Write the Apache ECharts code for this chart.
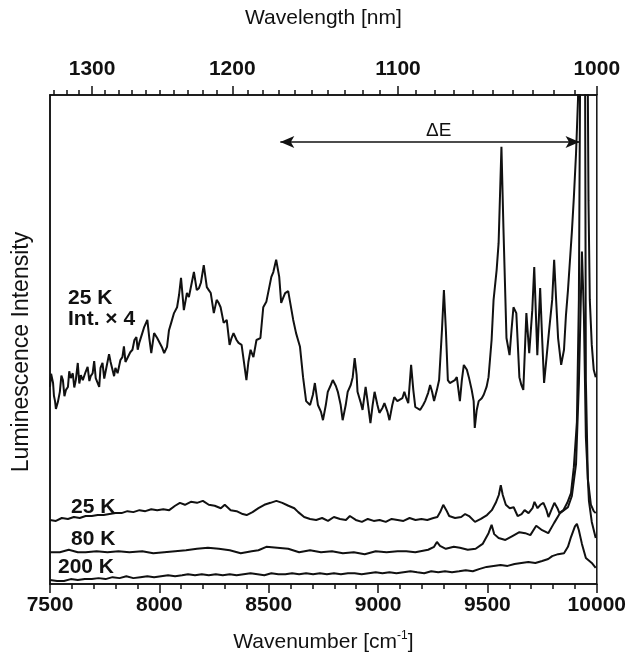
<!DOCTYPE html>
<html>
<head>
<meta charset="utf-8">
<script src="https://cdn.jsdelivr.net/npm/echarts@6/dist/echarts.min.js"></script>
<style>
  html, body { margin: 0; padding: 0; background: #fff; }
  #chart { width: 629px; height: 661px; }
</style>
</head>
<body>
<div id="chart"></div>
<script>
// wavelength ticks on the top axis (nm)
const topMajorNm = [1300, 1200, 1100, 1000]
const topMinorNm = [1330, 1320, 1310, 1290, 1280, 1270, 1260, 1250, 1240, 1230, 1220, 1210,
  1190, 1180, 1170, 1160, 1150, 1140, 1130, 1120, 1110,
  1090, 1080, 1070, 1060, 1050, 1040, 1030, 1020, 1010]

// 25 K spectrum, intensity x 4 (wavenumber, intensity)
const k25x4 = [
  [7500, 40.3], [7505, 43.0], [7514, 41.1], [7518, 38.5], [7523, 37.4], [7527, 35.8], [7536, 37.2], [7545, 39.3], [7552, 42.6], [7559, 41.7], [7566, 38.4], [7573, 39.7],
  [7582, 40.3], [7588, 43.5], [7595, 42.1], [7604, 43.1], [7611, 40.2], [7618, 41.7], [7627, 45.2], [7634, 41.0], [7641, 42.7], [7650, 41.7],
  [7663, 43.4], [7672, 44.4], [7680, 41.5], [7686, 42.5], [7695, 43.1], [7702, 45.6], [7709, 42.1], [7718, 41.7], [7725, 40.3], [7731, 44.2],
  [7740, 45.2], [7748, 42.0], [7754, 43.4], [7763, 43.8], [7770, 47.0], [7777, 45.4], [7786, 45.8], [7793, 42.5], [7799, 44.2], [7809, 43.1],
  [7822, 45.8], [7831, 46.4], [7838, 48.6], [7845, 45.4], [7854, 45.8], [7867, 47.4], [7877, 47.9], [7886, 49.9],
  [7895, 50.5], [7901, 47.9], [7908, 49.3], [7922, 51.3], [7931, 52.6], [7945, 54.0], [7954, 50.3], [7963, 47.2],
  [7976, 51.3], [7990, 50.3], [7999, 49.9], [8013, 48.3], [8022, 47.2], [8035, 48.5], [8044, 51.9],
  [8054, 53.4], [8067, 55.4], [8081, 56.6], [8090, 59.1], [8099, 62.6], [8112, 56.0], [8126, 59.5],
  [8135, 58.7], [8144, 58.7], [8158, 63.8], [8171, 60.1], [8181, 60.5], [8190, 61.6], [8203, 65.2],
  [8217, 60.7], [8226, 60.1], [8235, 59.5], [8249, 55.4], [8262, 58.1], [8271, 57.5], [8280, 56.6],
  [8294, 53.4], [8308, 54.0], [8321, 48.9], [8330, 50.3], [8339, 51.3], [8353, 49.9], [8362, 49.3],
  [8376, 48.9], [8385, 48.5], [8398, 41.7], [8407, 45.4], [8417, 47.9], [8430, 46.4], [8444, 49.9],
  [8453, 50.3], [8462, 50.3], [8475, 56.6], [8489, 57.7], [8498, 58.1], [8512, 62.8], [8521, 63.8],
  [8530, 64.2], [8534, 66.3], [8548, 62.8], [8557, 57.5], [8566, 58.5], [8575, 59.5], [8589, 59.9],
  [8598, 60.1], [8612, 54.0], [8625, 51.3], [8634, 49.9], [8643, 48.5], [8657, 42.3], [8671, 37.4],
  [8680, 37.0], [8689, 36.6], [8702, 38.7], [8711, 41.1], [8725, 36.6], [8739, 35.2], [8748, 33.5],
  [8761, 36.6], [8770, 39.3], [8784, 40.7], [8793, 41.7], [8807, 40.5], [8816, 39.3], [8829, 36.6],
  [8838, 33.5], [8852, 36.6], [8861, 39.3], [8875, 40.7], [8884, 42.3], [8893, 46.2], [8902, 42.7],
  [8906, 39.3], [8920, 37.2], [8929, 35.6], [8943, 40.3], [8952, 37.4], [8965, 32.9], [8975, 36.6],
  [8984, 39.3], [8997, 36.6], [9006, 35.0], [9020, 36.0], [9029, 37.0], [9043, 35.2], [9052, 33.5],
  [9065, 36.6], [9074, 38.2], [9088, 37.4], [9097, 37.0], [9111, 38.0], [9120, 39.3], [9129, 38.0],
  [9138, 37.0], [9151, 44.8], [9161, 39.7], [9170, 36.2], [9179, 36.0], [9192, 35.6], [9206, 36.6],
  [9215, 37.4], [9229, 39.1], [9238, 40.7], [9247, 39.3], [9256, 37.4], [9269, 39.7], [9279, 41.7],
  [9292, 51.9], [9301, 60.1], [9310, 51.9], [9319, 41.7], [9328, 41.1], [9337, 40.7], [9351, 41.7],
  [9360, 42.3], [9374, 37.4], [9383, 41.7], [9392, 44.8], [9406, 43.8], [9415, 42.3], [9428, 39.7],
  [9437, 37.4], [9442, 31.9], [9451, 35.6], [9460, 37.4], [9474, 38.0], [9483, 38.7], [9496, 40.3],
  [9505, 42.3], [9519, 49.9], [9528, 58.1], [9542, 64.2], [9551, 69.7], [9564, 89.4], [9573, 73.0],
  [9587, 50.3], [9601, 46.8], [9610, 51.9], [9619, 56.6], [9632, 55.4], [9646, 42.3], [9655, 40.7],
  [9664, 39.7], [9678, 55.4], [9691, 47.2], [9705, 56.0], [9714, 64.8], [9728, 46.8], [9741, 60.5],
  [9750, 50.3], [9759, 41.1], [9769, 45.8], [9782, 51.9], [9796, 58.1], [9805, 66.3], [9814, 58.1],
  [9823, 50.3], [9837, 44.8], [9850, 47.9], [9859, 55.0], [9868, 60.0], [9877, 66.0], [9886, 72.0],
  [9895, 79.0], [9905, 88.0], [9914, 99.0], [9927, 130], [9955, 130], [9962, 78.5], [9968, 58.1],
  [9977, 48.9], [9986, 43.8], [9995, 42.3]
]

// 25 K spectrum
const k25 = [
  [7500, 13.1], [7527, 12.9], [7554, 13.5], [7582, 13.3], [7609, 13.7], [7636, 13.5], [7663, 13.9],
  [7691, 13.9], [7718, 14.1], [7745, 14.1], [7772, 14.3], [7800, 14.5], [7827, 14.5], [7854, 14.9],
  [7881, 14.7], [7909, 15.1], [7936, 14.9], [7963, 15.3], [7990, 15.1], [8018, 15.3], [8045, 15.1],
  [8072, 16.0], [8094, 16.6], [8117, 16.2], [8144, 16.8], [8172, 16.6], [8199, 17.0], [8226, 16.2],
  [8253, 16.0], [8281, 15.5], [8299, 16.2], [8326, 15.1], [8353, 14.9], [8381, 14.3], [8399, 14.1],
  [8426, 14.7], [8453, 15.5], [8480, 16.2], [8508, 16.6], [8535, 17.0], [8562, 16.6], [8590, 16.0],
  [8617, 15.5], [8635, 14.7], [8662, 13.7], [8689, 13.3], [8717, 13.1], [8744, 13.5], [8771, 12.9],
  [8798, 13.7], [8826, 13.3], [8853, 13.1], [8871, 13.9], [8898, 13.1], [8926, 12.7], [8953, 13.3],
  [8980, 12.9], [9007, 13.1], [9035, 12.7], [9062, 13.3], [9089, 13.1], [9116, 12.9], [9144, 13.5],
  [9171, 13.1], [9198, 13.3], [9225, 13.1], [9253, 13.5], [9271, 13.7], [9284, 14.7], [9298, 16.2],
  [9312, 15.1], [9325, 13.9], [9352, 13.5], [9380, 13.7], [9398, 14.3], [9416, 13.9], [9443, 12.7],
  [9470, 13.3], [9498, 14.1], [9520, 15.1], [9538, 16.6], [9552, 18.2], [9561, 20.2], [9570, 18.2],
  [9584, 16.2], [9602, 15.5], [9620, 15.7], [9638, 13.9], [9656, 14.3], [9670, 15.1], [9688, 14.5],
  [9706, 15.5], [9715, 16.8], [9729, 15.5], [9742, 16.2], [9756, 16.6], [9770, 15.1], [9779, 13.7],
  [9792, 15.1], [9806, 16.6], [9820, 15.5], [9829, 14.5], [9847, 15.1], [9865, 16.6], [9882, 18.6],
  [9895, 23.9], [9909, 33.1], [9918, 58.0], [9927, 130], [9945, 130], [9950, 41.7], [9959, 21.5],
  [9973, 16.2], [9986, 14.9], [9995, 14.5]
]

// 80 K spectrum
const k80 = [
  [7500, 6.5], [7545, 6.5], [7586, 7.0], [7627, 6.5], [7663, 6.5], [7713, 6.7], [7763, 6.5],
  [7813, 6.7], [7863, 6.5], [7922, 6.7], [7972, 6.3], [8022, 6.5], [8072, 6.7], [8122, 6.9],
  [8172, 7.2], [8222, 7.4], [8272, 7.2], [8322, 6.9], [8372, 6.3], [8422, 6.7], [8453, 6.9],
  [8489, 7.6], [8539, 7.4], [8589, 7.2], [8639, 6.5], [8689, 6.9], [8739, 6.5], [8789, 6.7],
  [8839, 6.3], [8889, 6.5], [8939, 6.1], [8989, 6.7], [9039, 6.5], [9089, 6.7], [9129, 6.7],
  [9170, 6.5], [9229, 7.0], [9256, 7.6], [9269, 8.6], [9283, 7.8], [9310, 7.2], [9346, 7.6],
  [9374, 7.4], [9410, 7.0], [9446, 7.2], [9478, 8.2], [9505, 10.4], [9519, 12.1], [9531, 10.2],
  [9551, 9.4], [9582, 9.0], [9614, 9.8], [9646, 10.6], [9673, 10.4], [9696, 10.0], [9723, 11.9],
  [9750, 11.0], [9778, 10.4], [9805, 12.5], [9832, 14.5], [9868, 15.7], [9886, 18.0], [9905, 24.5],
  [9918, 40.9], [9932, 68.0], [9941, 55.0], [9950, 30.0], [9964, 17.0], [9977, 12.7], [9995, 9.4]
]

// 200 K spectrum
const k200 = [
  [7500, 0.8], [7532, 0.6], [7564, 0.6], [7595, 1.0], [7627, 0.8], [7659, 1.0], [7691, 1.0],
  [7722, 1.2], [7754, 1.0], [7786, 1.4], [7818, 1.2], [7849, 1.6], [7881, 1.2], [7913, 1.4],
  [7945, 1.6], [7976, 1.4], [8008, 1.6], [8040, 1.8], [8072, 1.6], [8104, 1.8], [8131, 2.0],
  [8163, 1.8], [8194, 2.0], [8226, 1.8], [8258, 2.0], [8290, 1.8], [8322, 2.0], [8353, 1.8],
  [8385, 2.0], [8417, 2.2], [8449, 2.0], [8480, 1.8], [8512, 2.2], [8544, 2.0], [8576, 2.0],
  [8607, 2.2], [8639, 2.0], [8671, 2.2], [8703, 2.0], [8734, 2.2], [8766, 2.0], [8798, 2.2],
  [8830, 2.0], [8862, 2.2], [8893, 2.2], [8925, 2.0], [8957, 2.2], [8989, 2.4], [9020, 2.2],
  [9052, 2.4], [9084, 2.2], [9116, 2.4], [9148, 2.6], [9179, 2.4], [9211, 2.2], [9243, 2.6],
  [9275, 2.4], [9306, 2.6], [9338, 2.4], [9370, 2.6], [9401, 2.8], [9433, 2.6], [9465, 3.1],
  [9496, 3.5], [9528, 3.7], [9560, 3.9], [9592, 3.7], [9624, 4.1], [9655, 4.3], [9687, 4.5],
  [9719, 4.3], [9750, 4.7], [9778, 5.1], [9796, 5.7], [9823, 6.1], [9850, 6.3], [9868, 7.6],
  [9882, 9.6], [9900, 11.8], [9909, 12.3], [9918, 11.0], [9932, 8.2], [9950, 5.3], [9977, 4.3],
  [9995, 3.3]
]

// Delta E arrow end points (wavenumber) and its height
const deltaE = [8553, 9921]
const deltaEHeight = 90.4

const chart = echarts.init(document.getElementById('chart'), null, { renderer: 'canvas' })

const font = 'Liberation Sans'
const ink = '#111'

const lineSeries = (name, data) => ({
  name,
  type: 'line',
  data,
  showSymbol: false,
  clip: true,
  silent: true,
  lineStyle: { color: ink, width: 2 },
  xAxisIndex: 0,
  yAxisIndex: 0
})

const label = (text, left, top) => ({
  type: 'text',
  left,
  top,
  style: { text, fontSize: 21, fontWeight: 'bold', fontFamily: font, fill: ink }
})

const option = {
  animation: false,
  backgroundColor: '#fff',
  textStyle: { fontFamily: font, color: ink },
  grid: {
    left: 50,
    right: 28,
    top: 95,
    bottom: 77,
    show: true,
    borderColor: ink,
    borderWidth: 1.5
  },
  xAxis: [
    {
      type: 'value',
      position: 'bottom',
      min: 7500,
      max: 10000,
      interval: 500,
      name: '{n|Wavenumber [cm}{s|-1}{n|]}',
      nameLocation: 'middle',
      nameGap: 46,
      nameTextStyle: {
        rich: {
          n: { fontSize: 21, fontFamily: font, color: ink, lineHeight: 24 },
          s: { fontSize: 12, fontFamily: font, color: ink, verticalAlign: 'top', lineHeight: 24 }
        }
      },
      axisLine: { show: true, lineStyle: { color: ink, width: 1.5 } },
      axisTick: { show: true, inside: false, length: 9, lineStyle: { color: ink, width: 1.5 } },
      minorTick: { show: true, splitNumber: 5, length: 5, lineStyle: { color: ink, width: 1.5 } },
      axisLabel: {
        fontSize: 21,
        fontWeight: 'bold',
        color: ink,
        fontFamily: font,
        margin: 11,
        formatter: v => String(v)
      },
      splitLine: { show: false }
    },
    {
      type: 'value',
      position: 'top',
      min: 7500,
      max: 10000,
      name: 'Wavelength [nm]',
      nameLocation: 'middle',
      nameGap: 66,
      nameTextStyle: { fontSize: 21, color: ink, fontFamily: font },
      axisLine: { show: true, lineStyle: { color: ink, width: 1.5 } },
      axisTick: {
        show: true,
        inside: false,
        length: 9,
        customValues: topMajorNm.map(nm => 1e7 / nm),
        lineStyle: { color: ink, width: 1.5 }
      },
      axisLabel: {
        fontSize: 21,
        fontWeight: 'bold',
        color: ink,
        fontFamily: font,
        margin: 15,
        customValues: topMajorNm.map(nm => 1e7 / nm),
        formatter: v => String(Math.round(1e7 / v))
      },
      splitLine: { show: false }
    },
    {
      type: 'value',
      position: 'top',
      min: 7500,
      max: 10000,
      axisLine: { show: false },
      axisTick: {
        show: true,
        inside: false,
        length: 5,
        customValues: topMinorNm.map(nm => 1e7 / nm),
        lineStyle: { color: ink, width: 1.5 }
      },
      axisLabel: { show: false },
      splitLine: { show: false }
    }
  ],
  yAxis: [
    {
      type: 'value',
      min: 0,
      max: 100,
      axisLine: { show: true, lineStyle: { color: ink, width: 1.5 } },
      axisTick: { show: false },
      axisLabel: { show: false },
      splitLine: { show: false }
    }
  ],
  series: [
    Object.assign(lineSeries('25 K x4', k25x4), {
      markLine: {
        silent: true,
        symbol: ['arrow', 'arrow'],
        symbolSize: [9, 14],
        lineStyle: { color: ink, width: 1.5, type: 'solid' },
        label: { show: false },
        data: [[{ coord: [deltaE[0], deltaEHeight] }, { coord: [deltaE[1], deltaEHeight] }]]
      }
    }),
    lineSeries('25 K', k25),
    lineSeries('80 K', k80),
    lineSeries('200 K', k200)
  ],
  graphic: [
    {
      type: 'text',
      x: 22,
      y: 352,
      rotation: Math.PI / 2,
      style: {
        text: 'Luminescence Intensity',
        fontSize: 23,
        fontFamily: font,
        fill: ink,
        align: 'center',
        verticalAlign: 'middle'
      }
    },
    { type: 'text', left: 426, top: 121, style: { text: 'ΔE', fontSize: 19, fontFamily: font, fill: ink } },
    label('25 K', 68, 288),
    label('Int. × 4', 68, 309),
    label('25 K', 71, 497),
    label('80 K', 71, 529),
    label('200 K', 58, 557)
  ]
}

chart.setOption(option)
</script>
</body>
</html>
